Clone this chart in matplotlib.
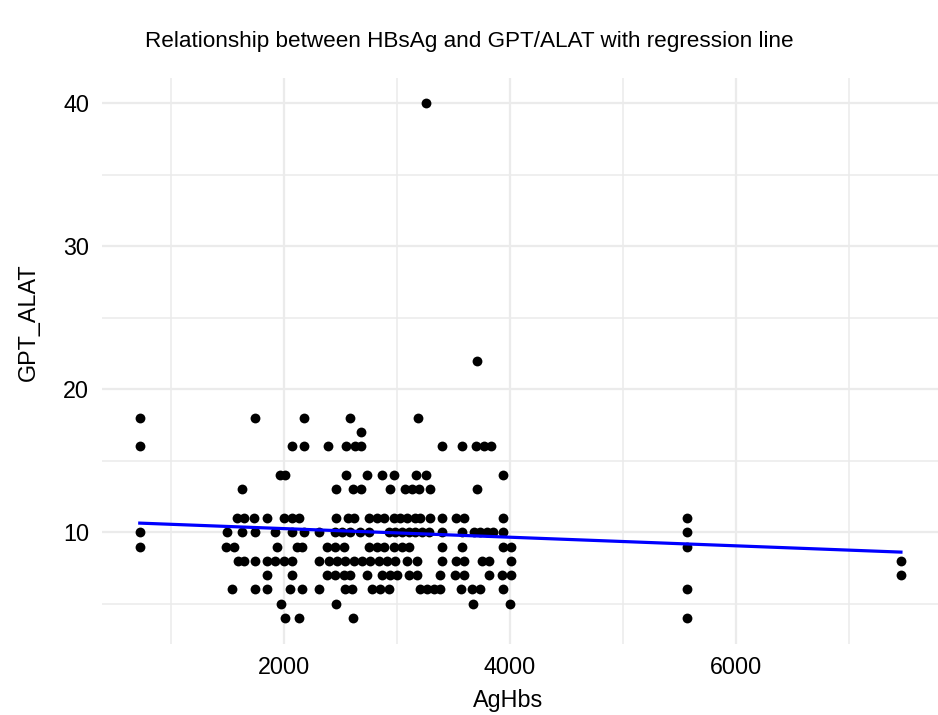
import numpy as np
import matplotlib
matplotlib.use("Agg")
import matplotlib.pyplot as plt
from matplotlib.ticker import MultipleLocator

plt.rcParams['font.family'] = ['Liberation Sans', 'DejaVu Sans']

# GPT_ALAT value -> AgHbs values observed at that level
rows = {
    40: [3260],
    22: [3709],
    18: [722, 1746, 2180, 2581, 3183],
    17: [2682],
    16: [722, 2071, 2180, 2386, 2549, 2632, 2682, 3399, 3575, 3703, 3768, 3836],
    14: [1968, 2012, 2549, 2735, 2868, 2971, 3172, 3260, 3940],
    13: [1628, 2461, 2608, 2685, 2942, 3075, 3134, 3192, 3296, 3709],
    11: [1584, 1643, 1731, 1850, 1997, 2071, 2130, 2461, 2567, 2617, 2749, 2824,
         2882, 2971, 3030, 3090, 3163, 3207, 3296, 3399, 3526, 3591, 3940, 5569],
    10: [722, 1496, 1628, 1746, 1923, 2071, 2174, 2308, 2455, 2514, 2587, 2676,
         2749, 2927, 2986, 3045, 3104, 3163, 3222, 3281, 3399, 3575, 3679, 3739,
         3798, 3851, 3940, 5569],
    9: [722, 1489, 1554, 1938, 2115, 2162, 2381, 2455, 2528, 2749, 2824, 2882,
        2971, 3045, 3104, 3399, 3575, 3940, 4010, 5569],
    8: [1593, 1643, 1746, 1850, 1923, 1997, 2071, 2308, 2395, 2470, 2543, 2617,
        2691, 2765, 2838, 2912, 2986, 3090, 3178, 3399, 3526, 3591, 3754, 3812,
        4010, 7464],
    7: [1850, 2071, 2381, 2455, 2528, 2587, 2735, 2868, 2942, 3001, 3104, 3178,
        3384, 3517, 3591, 3812, 3931, 4010, 7464],
    6: [1540, 1746, 1850, 2056, 2160, 2308, 2543, 2602, 2780, 2853, 2927, 3207,
        3267, 3325, 3384, 3570, 3665, 3732, 3940, 5569],
    5: [1976, 2461, 3672, 4004],
    4: [2006, 2130, 2611, 5569],
}

aghbs = []
gpt_alat = []
for yv, xs in rows.items():
    for xv in xs:
        aghbs.append(xv)
        gpt_alat.append(yv)
aghbs = np.array(aghbs, dtype=float)
gpt_alat = np.array(gpt_alat, dtype=float)

x_major = [2000, 4000, 6000]
y_major = [10, 20, 30, 40]

fig = plt.figure(figsize=(9.38, 7.15), dpi=100)
W, H = 938, 715
left, right, top, bottom = 101.7, 939, 77.6, 643.8
ax = fig.add_axes([left / W, 1 - bottom / H, (right - left) / W, (bottom - top) / H])

ax.scatter(aghbs, gpt_alat, s=50, color='black', linewidths=0, zorder=3)

slope, intercept = np.polyfit(aghbs, gpt_alat, 1)
xl = np.linspace(aghbs.min(), aghbs.max(), 100)
ax.plot(xl, slope * xl + intercept, color='#0000ff', lw=2.3, zorder=4)

xr = aghbs.max() - aghbs.min()
yr = gpt_alat.max() - gpt_alat.min()
ax.set_xlim(aghbs.min() - 0.05 * xr, aghbs.max() + 0.05 * xr)
ax.set_ylim(gpt_alat.min() - 0.05 * yr, gpt_alat.max() + 0.05 * yr)

ax.set_xticks(x_major)
ax.set_yticks(y_major)
ax.xaxis.set_minor_locator(MultipleLocator(1000))
ax.yaxis.set_minor_locator(MultipleLocator(5))
ax.grid(which='major', color='#EBEBEB', lw=1.6)
ax.grid(which='minor', color='#EBEBEB', lw=1.1)
ax.set_axisbelow(True)
for s in ax.spines.values():
    s.set_visible(False)
ax.tick_params(which='both', length=0)
ax.tick_params(axis='x', labelsize=16.8, pad=9, colors='black')
ax.tick_params(axis='y', labelsize=16.8, pad=9, colors='black')

ax.set_xlabel('AgHbs', fontsize=16.8)
ax.set_ylabel('GPT_ALAT', fontsize=16.8)
ax.xaxis.set_label_coords((508 - left) / (right - left), -(700 - bottom) / (bottom - top))
ax.yaxis.set_label_coords((28 - left) / (right - left), (bottom - 322) / (bottom - top))
ax.xaxis.label.set_va('center')
ax.yaxis.label.set_va('center')
fig.text(0.5, 1 - 41 / H, 'Relationship between HBsAg and GPT/ALAT with regression line',
         ha='center', va='center', fontsize=16.2)

fig.savefig('out.png', dpi=100)
